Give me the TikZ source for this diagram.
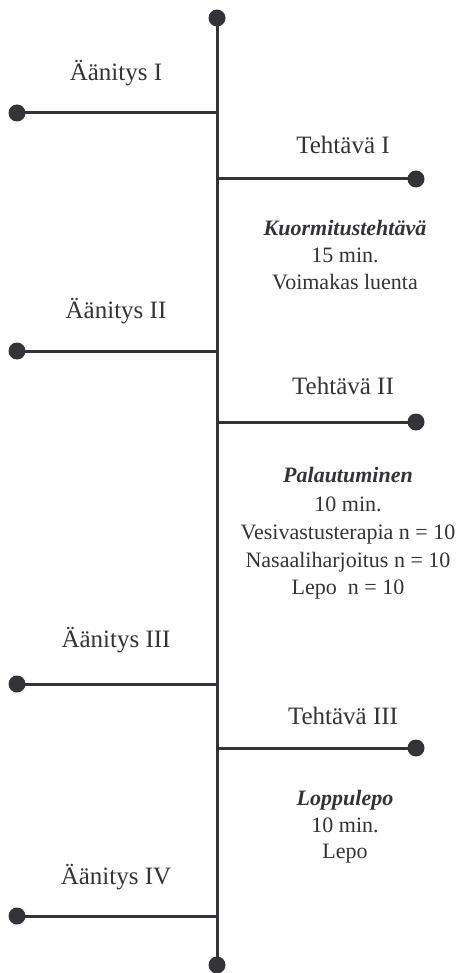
\documentclass[tikz,border=0pt]{standalone}
\usepackage{fontspec}
\setmainfont{Liberation Serif}
\definecolor{ink}{HTML}{333338}
\begin{document}
\begin{tikzpicture}[x=1pt,y=-1pt,
  ln/.style={draw=ink,line width=3pt},
  dot/.style={circle,fill=ink,inner sep=0pt,minimum size=17pt},
  lbl/.style={text=ink,font=\fontsize{25}{30}\selectfont,inner sep=0pt,anchor=base},
  desc/.style={text=ink,font=\fontsize{22}{26}\selectfont,inner sep=0pt,anchor=base}]
\useasboundingbox (0,0) rectangle (460,973);
\node[dot] (top) at (217,18) {};
\node[dot] (bot) at (217,965) {};
\draw[ln] (top.center) -- (bot.center);
% left branches
\coordinate (j1) at (217,113); \node[dot] (d1) at (17,113) {};
\coordinate (j2) at (217,351); \node[dot] (d2) at (17,351) {};
\coordinate (j3) at (217,684); \node[dot] (d3) at (17,684) {};
\coordinate (j4) at (217,916); \node[dot] (d4) at (17,916) {};
\draw[ln] (j1) -- (d1.center);
\draw[ln] (j2) -- (d2.center);
\draw[ln] (j3) -- (d3.center);
\draw[ln] (j4) -- (d4.center);
% right branches
\coordinate (k1) at (217,179); \node[dot] (e1) at (416,179) {};
\coordinate (k2) at (217,422); \node[dot] (e2) at (416,422) {};
\coordinate (k3) at (217,748); \node[dot] (e3) at (416,748) {};
\draw[ln] (k1) -- (e1.center);
\draw[ln] (k2) -- (e2.center);
\draw[ln] (k3) -- (e3.center);
% labels
\node[lbl] (a1) at (116,81) {Äänitys I};
\node[lbl] (a2) at (116,318) {Äänitys II};
\node[lbl] (a3) at (116,647) {Äänitys III};
\node[lbl] (a4) at (116,884) {Äänitys IV};
\node[lbl] (t1) at (343,154) {Tehtävä I};
\node[lbl] (t2) at (343,394) {Tehtävä II};
\node[lbl] (t3) at (343,724) {Tehtävä III};
% descriptions
\node[desc] (p1a) at (345,236) {\textbf{\textit{Kuormitustehtävä}}};
\node[desc] (p1b) at (345,263) {15 min.};
\node[desc] (p1c) at (345,289) {Voimakas luenta};
\node[desc] (p2a) at (348,482) {\textbf{\textit{Palautuminen}}};
\node[desc] (p2b) at (348,511) {10 min.};
\node[desc] (p2c) at (348,539) {Vesivastusterapia n = 10};
\node[desc] (p2d) at (348,567) {Nasaaliharjoitus n = 10};
\node[desc] (p2e) at (348,594) {Lepo~~n = 10};
\node[desc] (p3a) at (345,805) {\textbf{\textit{Loppulepo}}};
\node[desc] (p3b) at (345,832) {10 min.};
\node[desc] (p3c) at (345,858) {Lepo};
\end{tikzpicture}
\end{document}
